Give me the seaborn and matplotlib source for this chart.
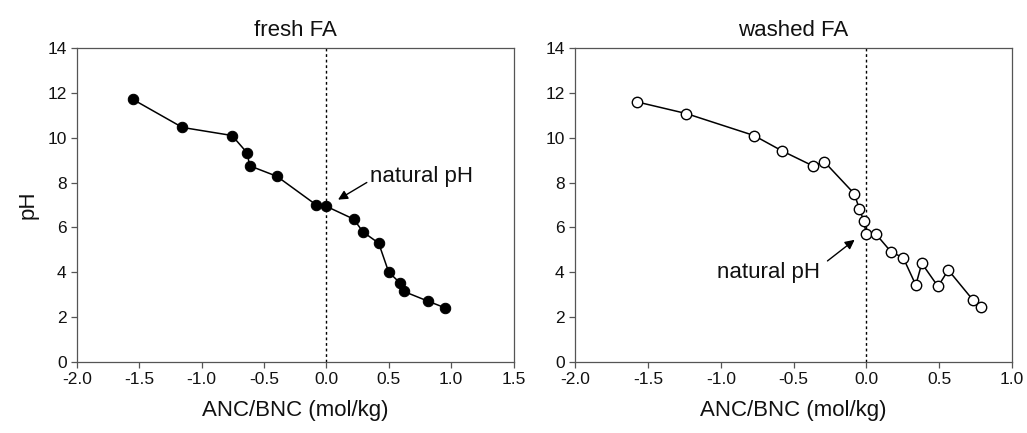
import numpy as np
import pandas as pd
import matplotlib
matplotlib.use("Agg")
import matplotlib.pyplot as plt
import seaborn as sns

# fresh fly ash titration curve
fresh_anc = [-1.555, -1.155, -0.757, -0.635, -0.616, -0.397, -0.083, 0.0,
             0.219, 0.293, 0.419, 0.499, 0.587, 0.619, 0.811, 0.949]
fresh_ph = [11.72, 10.46, 10.10, 9.32, 8.75, 8.28, 7.01, 6.94,
            6.37, 5.80, 5.30, 4.01, 3.54, 3.15, 2.72, 2.42]

# washed fly ash titration curve
washed_anc = [-1.576, -1.237, -0.772, -0.581, -0.369, -0.288, -0.083, -0.048,
              -0.018, -0.002, 0.067, 0.168, 0.253, 0.339, 0.380, 0.491,
              0.562, 0.733, 0.788]
washed_ph = [11.60, 11.08, 10.10, 9.42, 8.75, 8.92, 7.50, 6.81,
             6.30, 5.69, 5.69, 4.92, 4.64, 3.43, 4.40, 3.37,
             4.10, 2.75, 2.44]

titles = ["fresh FA", "washed FA"]
xlims = [(-2.0, 1.5), (-2.0, 1.0)]
xticks = [np.arange(-2.0, 1.51, 0.5), np.arange(-2.0, 1.01, 0.5)]
yticks = np.arange(0, 15, 2)

sns.set_style("ticks")
plt.rcParams["font.family"] = ["Liberation Sans", "DejaVu Sans"]

fig = plt.figure(figsize=(10.27, 4.33), dpi=100)
ax1 = fig.add_axes([0.075, 0.164, 0.425, 0.725])
ax2 = fig.add_axes([0.560, 0.164, 0.4255, 0.725])

fresh = pd.DataFrame({"anc": fresh_anc, "ph": fresh_ph})
washed = pd.DataFrame({"anc": washed_anc, "ph": washed_ph})

sns.lineplot(data=fresh, x="anc", y="ph", sort=False, ax=ax1, color="black",
             linewidth=1.1, marker="o", markersize=7.5,
             markerfacecolor="black", markeredgecolor="black")
sns.lineplot(data=washed, x="anc", y="ph", sort=False, ax=ax2, color="black",
             linewidth=1.1, marker="o", markersize=7.5,
             markerfacecolor="white", markeredgecolor="black", markeredgewidth=1.0)

for i, ax in enumerate([ax1, ax2]):
    ax.axvline(0, color="black", linestyle=(0, (2, 2)), linewidth=1.0, zorder=0)
    ax.set_xlim(*xlims[i])
    ax.set_ylim(0, 14)
    ax.set_xticks(xticks[i])
    ax.set_xticklabels([f"{t:.1f}" for t in xticks[i]])
    ax.set_yticks(yticks)
    ax.set_title(titles[i], fontsize=16, pad=9, color="#111111")
    ax.set_xlabel("ANC/BNC (mol/kg)", fontsize=16, labelpad=9, color="#111111")
    ax.set_ylabel("")
    ax.tick_params(axis="both", direction="out", length=4, width=0.9,
                   labelsize=12.5, color="#555555", labelcolor="#111111",
                   top=False, right=False)
    for sp in ax.spines.values():
        sp.set_color("#555555")
        sp.set_linewidth(0.9)

ax1.set_ylabel("pH", fontsize=16, labelpad=6, color="#111111")

ax1.annotate("natural pH", xy=(0.093, 7.24), xytext=(0.35, 8.28),
             fontsize=16, va="center", ha="left", color="#111111",
             arrowprops=dict(arrowstyle="-|>", color="black", lw=1.0,
                             shrinkA=0, shrinkB=0, mutation_scale=14,
                             relpos=(0.0, 0.3)))
ax2.annotate("natural pH", xy=(-0.081, 5.45), xytext=(-1.025, 4.01),
             fontsize=16, va="center", ha="left", color="#111111",
             arrowprops=dict(arrowstyle="-|>", color="black", lw=1.0,
                             shrinkA=2, shrinkB=0, mutation_scale=14,
                             relpos=(1.05, 0.95)))

fig.savefig("out.png", dpi=100)
